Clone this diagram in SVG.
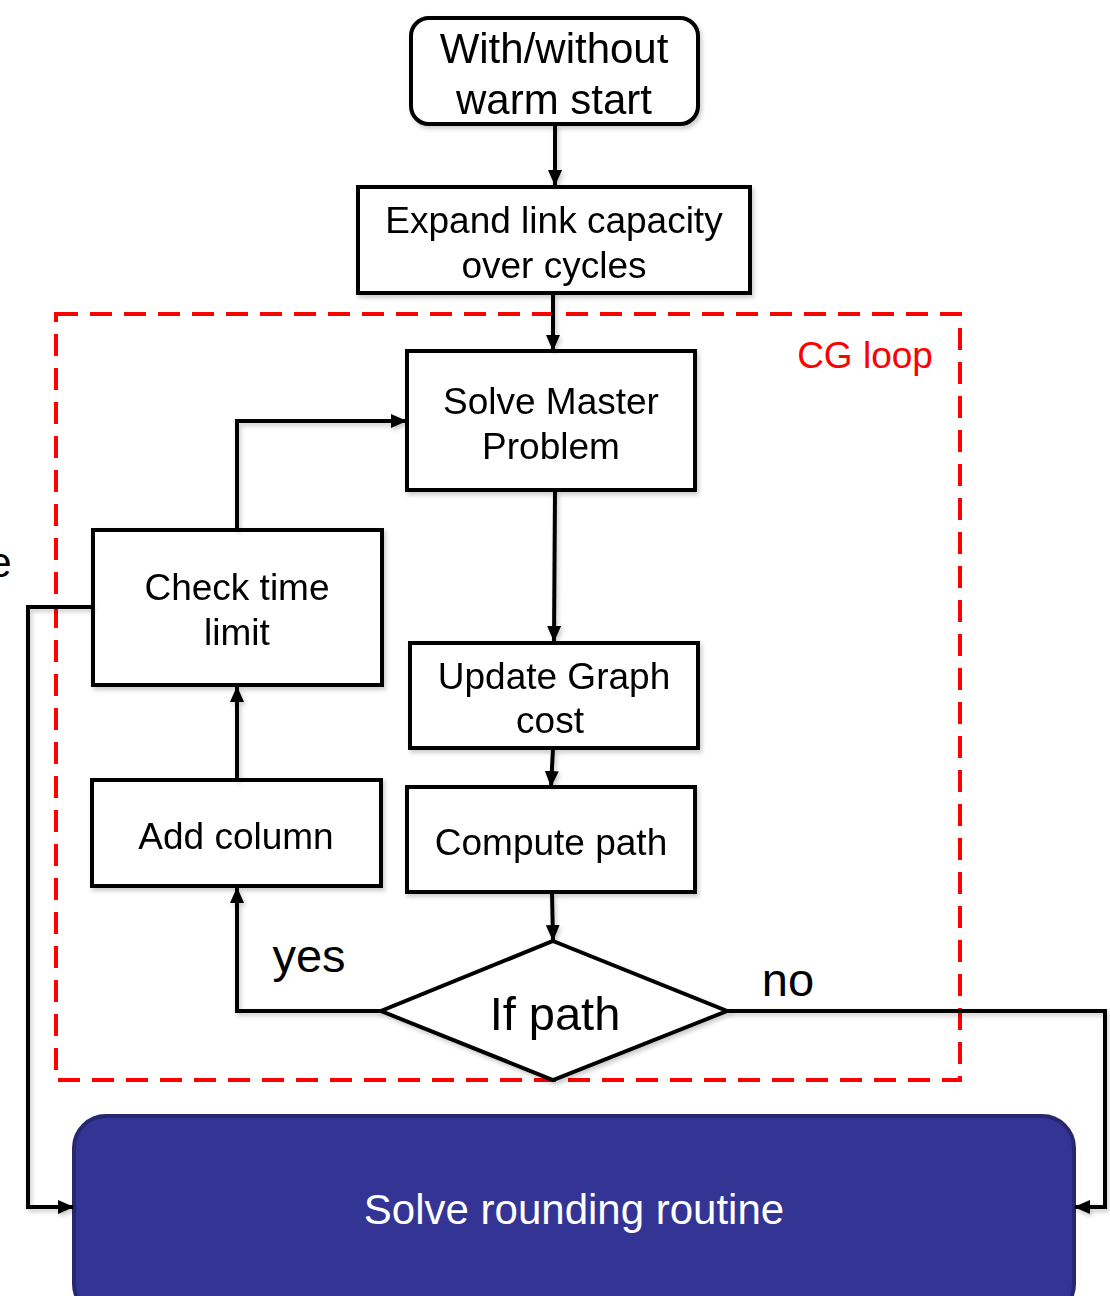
<svg xmlns="http://www.w3.org/2000/svg" width="1110" height="1296" viewBox="0 0 1110 1296">
<style>
.box{fill:#fff;stroke:#000;stroke-width:4;}
.t{font-family:"Liberation Sans",Arial,sans-serif;fill:#000;text-anchor:middle;}
.m{font-size:37px;}
.l{font-size:42px;}
.b{font-size:47px;}
.c{fill:none;stroke:#000;stroke-width:4;stroke-linejoin:miter;}
</style>
<defs>
<marker id="ah" markerUnits="userSpaceOnUse" markerWidth="16" markerHeight="14" refX="15" refY="7" orient="auto">
<path d="M0,0 L16,7 L0,14 Z" fill="#000"/>
</marker>
<filter id="sh" x="-10%" y="-10%" width="130%" height="130%">
<feDropShadow dx="2" dy="3" stdDeviation="2" flood-color="#000" flood-opacity="0.2"/>
</filter>
</defs>

<rect x="56" y="314" width="904" height="766" fill="none" stroke="#ff0000" stroke-width="4" stroke-dasharray="22,12"/>
<text class="t m" x="865" y="368" style="fill:#ff0000">CG loop</text>

<g id="start" filter="url(#sh)">
<rect class="box" x="411" y="18" width="287" height="106" rx="18"/>
<text class="t l" x="554" y="63">With/without</text>
<text class="t l" x="554" y="114">warm start</text>
</g>
<g id="expand" filter="url(#sh)">
<rect class="box" x="358" y="187" width="392" height="106"/>
<text class="t m" x="554" y="233">Expand link capacity</text>
<text class="t m" x="554" y="278">over cycles</text>
</g>
<g id="master" filter="url(#sh)">
<rect class="box" x="407" y="351" width="288" height="139"/>
<text class="t m" x="551" y="414">Solve Master</text>
<text class="t m" x="551" y="459">Problem</text>
</g>
<g id="update" filter="url(#sh)">
<rect class="box" x="410" y="643" width="288" height="105"/>
<text class="t m" x="554" y="689">Update Graph</text>
<text class="t m" x="550" y="733">cost</text>
</g>
<g id="compute" filter="url(#sh)">
<rect class="box" x="407" y="787" width="288" height="105"/>
<text class="t m" x="551" y="855">Compute path</text>
</g>
<g id="ifpath" filter="url(#sh)">
<polygon class="box" points="553,941 727,1011 553,1080 381,1011"/>
<text class="t b" x="555" y="1030">If path</text>
</g>
<g id="addcol" filter="url(#sh)">
<rect class="box" x="92" y="780" width="289" height="106"/>
<text class="t m" x="236" y="849">Add column</text>
</g>
<g id="checktime" filter="url(#sh)">
<rect class="box" x="93" y="530" width="289" height="155"/>
<text class="t m" x="237" y="600">Check time</text>
<text class="t m" x="237" y="645">limit</text>
</g>
<g id="rounding">
<rect x="74" y="1116" width="1000" height="200" rx="32" fill="#343494" stroke="#272772" stroke-width="4"/>
<text class="t l" x="574" y="1224" style="fill:#fff">Solve rounding routine</text>
</g>

<g id="connectors" filter="url(#sh)">
<path class="c" d="M555,125 L555,185" marker-end="url(#ah)"/>
<path class="c" d="M553,294 L553,350" marker-end="url(#ah)"/>
<path class="c" d="M555,491 L554,641" marker-end="url(#ah)"/>
<path class="c" d="M553,749 L551,786" marker-end="url(#ah)"/>
<path class="c" d="M552,893 L553,940" marker-end="url(#ah)"/>
<path class="c" d="M381,1011 L237,1011 L237,888" marker-end="url(#ah)"/>
<path class="c" d="M237,780 L237,687" marker-end="url(#ah)"/>
<path class="c" d="M237,530 L237,421 L406,421" marker-end="url(#ah)"/>
<path class="c" d="M93,607 L28,607 L28,1207 L73,1207" marker-end="url(#ah)"/>
<path class="c" d="M727,1011 L1105,1011 L1105,1207 L1075,1207" marker-end="url(#ah)"/>
</g>

<text class="t b" x="309" y="972">yes</text>
<text class="t b" x="788" y="996">no</text>
<text class="t l" x="0" y="577">e</text>
</svg>
